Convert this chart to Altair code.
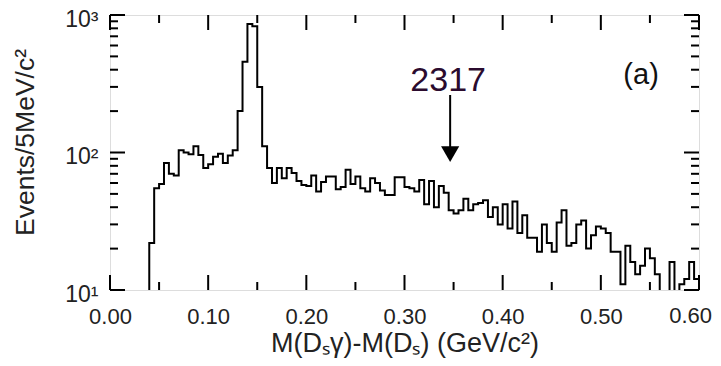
import altair as alt
import pandas as pd

# ---- data ----
# events per 5 MeV bin, bins starting at 0.040 GeV (one value per bin)
counts = [22, 55, 59, 84, 70, 68, 104, 100, 97, 111,
          96, 77, 82, 93, 98, 84, 95, 104, 200, 457,
          860, 830, 300, 111, 77, 60, 77, 65, 77, 71,
          62, 58, 57, 68, 52, 61, 67, 67, 54, 56,
          75, 59, 67, 55, 52, 65, 60, 53, 49, 49,
          66, 66, 56, 55, 52, 63, 42, 62, 40, 57,
          51, 38, 36, 38, 46, 38, 42, 43, 45, 34,
          40, 30, 42, 28, 44, 26, 35, 24, 24, 19,
          30, 22, 19, 31, 38, 21, 22, 30, 32, 20,
          25, 29, 28, 26, 19, 19, 11, 21, 16, 13,
          15, 20, 17, 13, 1, 1, 16, 1, 11, 12,
          16, 12]
bin_start = 0.040
bin_width = 0.005
x_ticks_major = [0.0, 0.1, 0.2, 0.3, 0.4, 0.5, 0.6]
x_ticks_minor = [0.05, 0.15, 0.25, 0.35, 0.45, 0.55]
y_ticks_major = [10, 100, 1000]
y_ticks_minor = [20, 30, 40, 50, 60, 70, 80, 90, 200, 300, 400, 500, 600, 700, 800, 900]
arrow_x = 0.3465
arrow_top = 262
arrow_head = 97.5
label_2317 = "2317"
panel_label = "(a)"

# ---- build step-line table ----
xs = [bin_start - bin_width] + [round(bin_start + i * bin_width, 4) for i in range(len(counts))] + [0.6]
ys = [1] + counts + [counts[-1]]
hist = pd.DataFrame({"x": xs, "y": ys})

FONT = "Liberation Sans"
W, H = 589, 275
LBL = 22

xscale = alt.Scale(domain=[0, 0.6], nice=False, zero=False)
yscale = alt.Scale(type="log", domain=[10, 1000], nice=False)

line = alt.Chart(hist).mark_line(
    interpolate="step-after", clip=True, color="black", strokeWidth=2
).encode(
    x=alt.X("x:Q", scale=xscale, axis=alt.Axis(
        values=x_ticks_major[:-1], format=".2f", ticks=False, tickSize=0, domain=False, grid=False,
        labelFont=FONT, labelFontSize=LBL, labelColor="#222", labelPadding=16,
        title="M(D\u209b\u03b3)-M(D\u209b) (GeV/c\u00b2)", titleFont=FONT, titleFontSize=27,
        titleFontWeight="normal", titleColor="#222", titleX=W / 2, titleY=61,
        titleBaseline="alphabetic", titleAlign="center",
        labelFlush=False)),
    y=alt.Y("y:Q", scale=yscale, axis=alt.Axis(
        values=y_ticks_major, ticks=False, tickSize=0, domain=False, grid=False,
        labelExpr="datum.value == 10 ? '10\u00b9' : datum.value == 100 ? '10\u00b2' : '10\u00b3'",
        labelFont=FONT, labelFontSize=23, labelColor="#222", labelPadding=12, labelOffset=4,
        title="Events/5MeV/c\u00b2", titleFont=FONT, titleFontSize=26.5, titleFontWeight="normal",
        titleColor="#222", titleX=-85, titleY=127, titleAngle=270,
        titleAlign="center", titleBaseline="middle")),
)

# last x label, kept inside the page edge
last_lbl = alt.Chart(pd.DataFrame({"t": [x_ticks_major[-1]], "s": ["%.2f" % x_ticks_major[-1]]})).mark_text(
    font=FONT, fontSize=LBL, color="#222", align="right", baseline="top", dx=13, dy=16
).encode(x=alt.X("t:Q", scale=xscale), y=alt.value(H), text="s:N")

xmaj = pd.DataFrame({"t": x_ticks_major})
xmin = pd.DataFrame({"t": x_ticks_minor})
ymaj = pd.DataFrame({"t": y_ticks_major})
ymin = pd.DataFrame({"t": y_ticks_minor})

def xticks(df, length):
    bottom = alt.Chart(df).mark_rule(color="black", strokeWidth=2).encode(
        x=alt.X("t:Q", scale=xscale), y=alt.value(H), y2=alt.value(H - length))
    top = alt.Chart(df).mark_rule(color="black", strokeWidth=2).encode(
        x=alt.X("t:Q", scale=xscale), y=alt.value(0), y2=alt.value(length))
    return bottom + top

def yticks(df, length):
    left = alt.Chart(df).mark_rule(color="black", strokeWidth=2).encode(
        y=alt.Y("t:Q", scale=yscale), x=alt.value(0), x2=alt.value(length))
    right = alt.Chart(df).mark_rule(color="black", strokeWidth=2).encode(
        y=alt.Y("t:Q", scale=yscale), x=alt.value(W), x2=alt.value(W - length))
    return left + right

arrow_df = pd.DataFrame({"x": [arrow_x], "y": [arrow_top], "y2": [arrow_head]})
arrow_line = alt.Chart(arrow_df).mark_rule(color="black", strokeWidth=2).encode(
    x=alt.X("x:Q", scale=xscale), y=alt.Y("y:Q", scale=yscale), y2="y2:Q")
arrow_tip = alt.Chart(arrow_df).mark_point(
    shape="triangle-down", filled=True, color="black", size=330, opacity=1
).encode(x=alt.X("x:Q", scale=xscale), y=alt.Y("y2:Q", scale=yscale))

txt_df = pd.DataFrame({"x": [0.3445, 0.541], "y": [280, 315],
                       "label": [label_2317, panel_label]})
t1 = alt.Chart(txt_df.iloc[[0]]).mark_text(
    font=FONT, fontSize=34, color="#2b0b2e", baseline="alphabetic", align="center"
).encode(x=alt.X("x:Q", scale=xscale), y=alt.Y("y:Q", scale=yscale), text="label:N")
t2 = alt.Chart(txt_df.iloc[[1]]).mark_text(
    font=FONT, fontSize=29, color="#111111", baseline="alphabetic", align="center"
).encode(x=alt.X("x:Q", scale=xscale), y=alt.Y("y:Q", scale=yscale), text="label:N")

chart = alt.layer(
    line, last_lbl,
    xticks(xmaj, 15), xticks(xmin, 8),
    yticks(ymaj, 15), yticks(ymin, 8),
    arrow_line, arrow_tip, t1, t2,
).properties(
    width=W, height=H,
    autosize=alt.AutoSizeParams(type="none"),
    padding={"left": 102, "top": 7, "right": 14, "bottom": 68},
).configure_view(stroke="black", strokeWidth=2).configure(background="white")

chart.save("out.html", embed_options={"renderer": "svg", "actions": False})
